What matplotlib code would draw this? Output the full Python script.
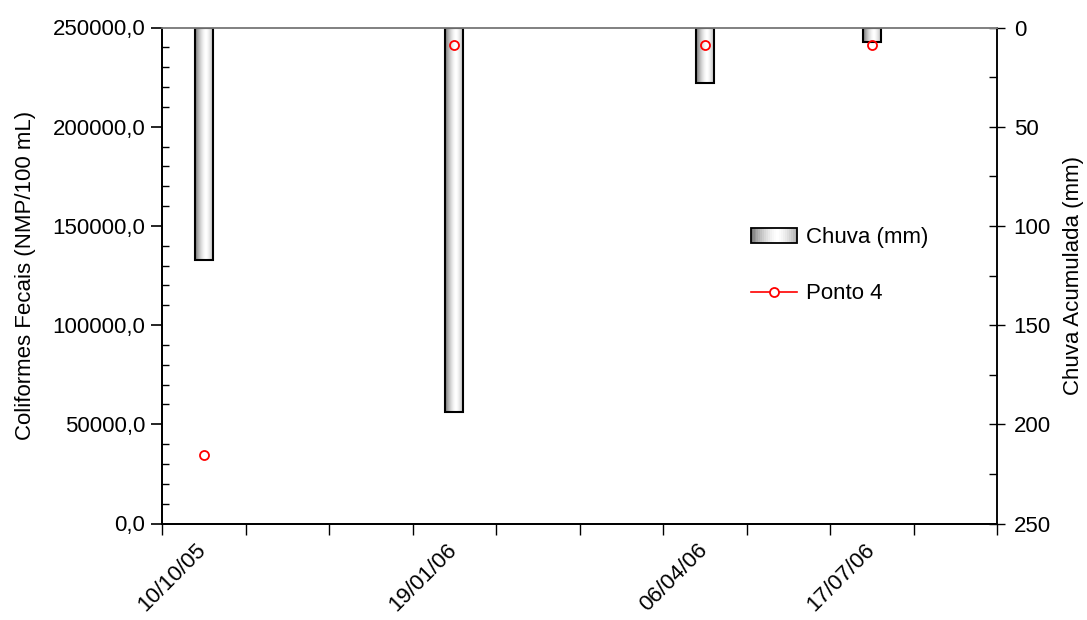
import numpy as np
import matplotlib
matplotlib.use("Agg")
import matplotlib.pyplot as plt
from matplotlib.patches import Rectangle
from matplotlib.legend_handler import HandlerBase
from matplotlib.lines import Line2D
from matplotlib.ticker import FuncFormatter, MultipleLocator
from matplotlib.transforms import ScaledTranslation

plt.rcParams['font.family'] = ['Liberation Sans', 'DejaVu Sans']

# ---- data ----
dates = ['10/10/05', '', '', '19/01/06', '', '', '06/04/06', '', '17/07/06', '']
chuva_mm = [117, np.nan, np.nan, 194, np.nan, np.nan, 28, np.nan, 7.5, np.nan]
ponto4 = [34400, np.nan, np.nan, 241000, np.nan, np.nan, 241000, np.nan, 241000, np.nan]

FS = 16

def profile(t):
    return 1.0 - 0.55 * (np.abs(t - 0.58) / 0.58) ** 1.6

grad_cmap = plt.get_cmap('gray')

fig = plt.figure(figsize=(10.87, 6.2), dpi=100)
ax = fig.add_axes([162/1087, 1 - 523.5/620, 835/1087, 496/620])
ax2 = ax.twinx()

x = np.arange(len(dates))

# rain bars on right (inverted) axis
bars = ax2.bar(x, chuva_mm, width=0.22, bottom=0, facecolor='none',
               edgecolor='black', linewidth=1.5, zorder=3)
tt = np.linspace(0, 1, 64)
grad = profile(tt)[None, :]
for b in bars:
    if not np.isfinite(b.get_height()):
        continue
    x0, w = b.get_x(), b.get_width()
    y0, h = b.get_y(), b.get_height()
    im = ax2.imshow(grad, cmap=grad_cmap, vmin=0, vmax=1, aspect='auto',
                    extent=[x0, x0 + w, y0 + h, y0], zorder=2, interpolation='bilinear')
    im.set_clip_path(b)

ax2.set_ylim(250, 0)
ax2.set_xlim(-0.5, len(dates) - 0.5)

# points on left axis
ax.plot(x, ponto4, color='red', marker='o', markersize=6.5, markerfacecolor='none',
        markeredgecolor='red', markeredgewidth=1.3, linewidth=1.2, zorder=5)
ax.set_ylim(0, 250000)
ax.set_xlim(-0.5, len(dates) - 0.5)
ax.set_zorder(ax2.get_zorder() + 1)
ax.patch.set_visible(False)

# left axis ticks
ax.yaxis.set_major_locator(MultipleLocator(50000))
ax.yaxis.set_minor_locator(MultipleLocator(10000))
ax.yaxis.set_major_formatter(FuncFormatter(lambda v, p: f"{v:.1f}".replace('.', ',')))
ax.tick_params(axis='y', which='major', direction='out', length=8, width=1.2,
               labelsize=FS, pad=4)
ax.tick_params(axis='y', which='minor', direction='in', length=5, width=1.0)

# x axis: ticks at category boundaries, labels at centers
ax.set_xticks(np.arange(-0.5, len(dates), 1.0))
ax.set_xticklabels([])
ax.tick_params(axis='x', which='major', direction='out', length=8, width=1.0)
ax.set_xticks(x, minor=True)
ax.set_xticklabels(dates, minor=True, rotation=45, ha='right', va='top',
                   rotation_mode='anchor', fontsize=FS)
ax.tick_params(axis='x', which='minor', length=0, pad=6)
shift = ScaledTranslation(-0.08, -0.08, fig.dpi_scale_trans)
for lab in ax.get_xticklabels(minor=True):
    lab.set_transform(lab.get_transform() + shift)

# right axis ticks
ax2.yaxis.set_major_locator(MultipleLocator(50))
ax2.yaxis.set_minor_locator(MultipleLocator(25))
ax2.tick_params(axis='y', which='major', direction='inout', length=12, width=1.0,
                labelsize=FS, pad=6)
ax2.tick_params(axis='y', which='minor', direction='in', length=6, width=1.0)

# spines
for a in (ax, ax2):
    a.spines['top'].set_color('#808080')
    a.spines['top'].set_linewidth(1.2)
    a.spines['left'].set_linewidth(1.3)
    a.spines['bottom'].set_linewidth(1.3)
    a.spines['right'].set_linewidth(1.1)

ax.set_ylabel('Coliformes Fecais (NMP/100 mL)', fontsize=FS)
ax.yaxis.set_label_coords(-0.151, 0.5)
ax2.set_ylabel('Chuva Acumulada (mm)', fontsize=FS)
ax2.yaxis.set_label_coords(1.079, 0.5)


class GradHandler(HandlerBase):
    def create_artists(self, legend, orig_handle, xdescent, ydescent, width,
                       height, fontsize, trans):
        n = 24
        arts = []
        x0, y0 = -xdescent, -ydescent
        for i in range(n):
            c = grad_cmap(profile((i + 0.5) / n))
            r = Rectangle((x0 + i * width / n, y0), width / n + 0.3, height,
                          facecolor=c, edgecolor='none', transform=trans)
            arts.append(r)
        arts.append(Rectangle((x0, y0), width, height, facecolor='none',
                              edgecolor='black', linewidth=1.3, transform=trans))
        return arts


bar_handle = Rectangle((0, 0), 1, 1)
line_handle = Line2D([], [], color='red', marker='o', markersize=6.5,
                     markerfacecolor='white', markeredgecolor='red',
                     markeredgewidth=1.3, linewidth=1.2)
leg = ax.legend([bar_handle, line_handle], ['Chuva (mm)', 'Ponto 4'],
                handler_map={Rectangle: GradHandler()},
                loc='upper left', bbox_to_anchor=(0.705, 0.598), frameon=False,
                fontsize=FS, handlelength=2.07, handleheight=0.65,
                handletextpad=0.4, labelspacing=1.6, borderpad=0, borderaxespad=0)

fig.savefig('out.png', dpi=100)
